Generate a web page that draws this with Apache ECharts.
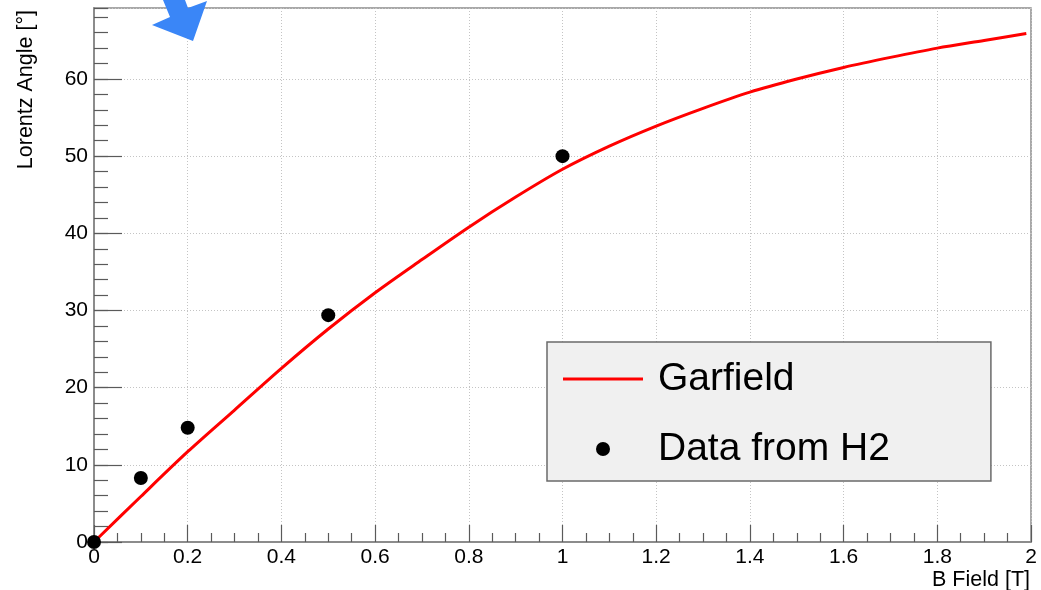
<!DOCTYPE html>
<html>
<head>
<meta charset="utf-8">
<title>Lorentz Angle vs B Field</title>
<script src="https://cdn.jsdelivr.net/npm/echarts@6/dist/echarts.min.js"></script>
<style>
  html, body { margin: 0; padding: 0; background: #ffffff; }
  #chart { width: 1041px; height: 590px; }
</style>
</head>
<body>
<div id="chart"></div>
<script>
// Garfield simulation: Lorentz angle [deg] vs magnetic field [T]
const garfieldB =     [0, 0.1, 0.2, 0.3, 0.4, 0.5, 0.6, 0.7, 0.8, 0.9, 1.0, 1.1, 1.2, 1.3, 1.4, 1.5, 1.6, 1.7, 1.8, 1.9, 1.99];
const garfieldAngle = [0, 5.9, 11.7, 17.1, 22.5, 27.6, 32.3, 36.6, 40.8, 44.7, 48.3, 51.3, 53.9, 56.2, 58.3, 60.0, 61.5, 62.8, 64.0, 65.0, 65.9];

// Measured points from the H2 beam test
const dataB =     [0, 0.1, 0.2, 0.5, 1.0];
const dataAngle = [0, 8.3, 14.8, 29.4, 50.0];

const xTitle = 'B Field [T]';
const yTitle = 'Lorentz Angle [°]';
const seriesNames = ['Garfield', 'Data from H2'];

const FONT = '"Liberation Sans", Arial, Helvetica, sans-serif';
const frameColor = '#8c8c8c';
const tickColor = '#5a5a5a';
const gridColor = '#c4c4c4';

const chart = echarts.init(document.getElementById('chart'), null, { renderer: 'canvas' });

const pairs = (xs, ys) => xs.map((x, i) => [x, ys[i]]);

const option = {
  backgroundColor: '#ffffff',
  animation: false,
  grid: {
    left: 94, top: 8, right: 10, bottom: 48,
    show: true,
    borderColor: frameColor,
    borderWidth: 1.5,
    backgroundColor: 'transparent',
    containLabel: false
  },
  xAxis: [{
    type: 'value',
    min: 0, max: 2, interval: 0.2,
    axisLine: { show: true, onZero: false, lineStyle: { color: frameColor, width: 2 } },
    axisTick: { show: true, inside: true, length: 17, lineStyle: { color: tickColor, width: 1.2 } },
    minorTick: { show: true, splitNumber: 4, length: 9, lineStyle: { color: tickColor, width: 1.2 } },
    splitLine: { show: true, lineStyle: { color: gridColor, width: 1, type: [1, 2] } },
    axisLabel: { show: true, margin: 5, color: '#000', fontSize: 21, fontFamily: FONT, showMaxLabel: true }
  }],
  yAxis: [{
    type: 'value',
    min: 0, max: 69.2, interval: 10,
    axisLine: { show: true, onZero: false, lineStyle: { color: frameColor, width: 2 } },
    axisTick: { show: true, inside: true, length: 28, lineStyle: { color: tickColor, width: 1.2 } },
    splitLine: { show: true, lineStyle: { color: gridColor, width: 1, type: [1, 2] } },
    axisLabel: {
      show: true, margin: 6, color: '#000', fontSize: 21, fontFamily: FONT,
      showMaxLabel: false,
      formatter: v => (Math.abs(v % 10) < 1e-6 ? String(v) : '')
    }
  }, {
    // secondary ticks every 2 degrees
    type: 'value',
    position: 'left',
    min: 0, max: 69.2, interval: 2,
    axisLine: { show: false },
    axisTick: { show: true, inside: true, length: 14, lineStyle: { color: tickColor, width: 1.2 } },
    splitLine: { show: false },
    axisLabel: { show: false }
  }],
  legend: {
    orient: 'vertical',
    left: 547, top: 342,
    backgroundColor: '#f0f0f0',
    borderColor: '#6a6a6a',
    borderWidth: 1.5,
    borderRadius: 0,
    padding: [17, 101, 12, 16],
    itemGap: 30,
    itemWidth: 80,
    itemHeight: 14,
    textStyle: { fontSize: 39, fontFamily: FONT, color: '#000', lineHeight: 40, padding: [0, 0, 0, 10] },
    data: [
      { name: seriesNames[0], icon: 'path://M0 0H80V3H0Z', itemStyle: { color: '#ff0000' } },
      { name: seriesNames[1], icon: 'circle', itemStyle: { color: '#000000', opacity: 1 } }
    ]
  },
  series: [{
    name: seriesNames[0],
    type: 'line',
    xAxisIndex: 0, yAxisIndex: 0,
    data: pairs(garfieldB, garfieldAngle),
    smooth: 0.3,
    symbol: 'none',
    lineStyle: { color: '#ff0000', width: 3 },
    itemStyle: { color: '#ff0000' },
    z: 3
  }, {
    name: seriesNames[1],
    type: 'scatter',
    xAxisIndex: 0, yAxisIndex: 0,
    data: pairs(dataB, dataAngle),
    symbol: 'circle',
    symbolSize: 14,
    clip: false,
    itemStyle: { color: '#000000', opacity: 1 },
    z: 4
  }],
  graphic: [{
    type: 'polygon',
    shape: { points: [[163, 0], [170, 17], [152, 25], [193, 41], [207, 1], [188, 8], [185, 0]] },
    style: { fill: '#3a86f7' },
    z: 10
  }, {
    type: 'text',
    x: 1030, y: 580,
    style: { text: xTitle, fontSize: 21.5, fontFamily: FONT, fill: '#000', align: 'right', verticalAlign: 'middle' }
  }, {
    type: 'text',
    x: 26, y: 10,
    rotation: Math.PI / 2,
    style: { text: yTitle, fontSize: 21.5, fontFamily: FONT, fill: '#000', align: 'right', verticalAlign: 'middle' }
  }]
};

chart.setOption(option);
</script>
</body>
</html>
